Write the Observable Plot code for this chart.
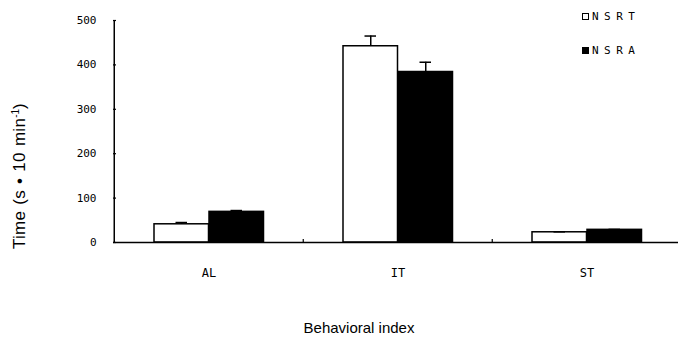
<!DOCTYPE html>
<html>
<head>
<meta charset="utf-8">
<script src="https://cdn.jsdelivr.net/npm/d3@7"></script>
<script src="https://cdn.jsdelivr.net/npm/@observablehq/plot@0.6"></script>
<style>
  html, body { margin: 0; padding: 0; background: #fff; }
  #wrap { position: relative; width: 678px; height: 342px; overflow: hidden; }
  .ttl { position: absolute; font-family: "Liberation Sans", Arial, sans-serif; font-size: 15px; color: #000; white-space: nowrap; }
  #ytitle { left: 20px; top: 176px; font-size: 17px; letter-spacing: 0.3px; word-spacing: 1px; transform: translate(-50%, -50%) rotate(-90deg); }
  #xtitle { left: 359px; top: 327px; transform: translate(-50%, -50%); }
  #legend { position: absolute; left: 582px; top: 8px; font-family: "DejaVu Sans Mono", monospace; font-size: 11px; letter-spacing: 5.5px; }
  .li { display: flex; align-items: center; height: 16px; margin-bottom: 18px; }
  .sw { width: 7px; height: 7px; border: 1px solid #000; margin-right: 3px; box-sizing: border-box; }
</style>
</head>
<body>
<div id="wrap">
  <div id="chart"></div>
  <div id="ytitle" class="ttl">Time (s • 10 min<sup style="font-size:10px;letter-spacing:0">-1</sup>)</div>
  <div id="xtitle" class="ttl">Behavioral index</div>
  <div id="legend"></div>
</div>
<script>
const categories = ["AL", "IT", "ST"];
const series = ["NSRT", "NSRA"];
const seriesFill = ["white", "black"];
const nsrtMean = [41, 442, 23];
const nsrtErr = [4, 23, 1];
const nsraMean = [69, 384, 28.5];
const nsraErr = [3, 22, 1];
const yTicks = [0, 100, 200, 300, 400, 500];

const nsrt = categories.map((c, i) => ({cat: c, value: nsrtMean[i], err: nsrtErr[i]}));
const nsra = categories.map((c, i) => ({cat: c, value: nsraMean[i], err: nsraErr[i]}));

const chart = Plot.plot({
  width: 678,
  height: 342,
  marginLeft: 113,
  marginRight: 0,
  marginTop: 20,
  marginBottom: 100,
  style: {background: "white", color: "black"},
  x: {type: "band", domain: categories, range: [113, 681.5], padding: 0, label: null},
  y: {domain: [0, 500], range: [242, 20], label: null},
  marks: [
    Plot.barY(nsrt, {x: "cat", y: "value", fill: seriesFill[0], stroke: "black", strokeWidth: 1.5, insetLeft: 40, insetRight: 94.5}),
    Plot.barY(nsra, {x: "cat", y: "value", fill: seriesFill[1], stroke: "black", strokeWidth: 1.5, insetLeft: 95, insetRight: 39.5}),
    Plot.ruleX(nsrt, {x: "cat", y1: "value", y2: d => d.value + d.err, dx: -27.25, stroke: "black", strokeWidth: 1.5}),
    Plot.ruleX(nsra, {x: "cat", y1: "value", y2: d => d.value + d.err, dx: 27.75, stroke: "black", strokeWidth: 1.5}),
    Plot.tickY(nsrt, {x: "cat", y: d => d.value + d.err, insetLeft: 61.5, insetRight: 116, stroke: "black", strokeWidth: 1.5}),
    Plot.tickY(nsra, {x: "cat", y: d => d.value + d.err, insetLeft: 116.5, insetRight: 61, stroke: "black", strokeWidth: 1.5}),
    // y axis line
    Plot.ruleX([categories[0]], {x: d => d, dx: -94.75, stroke: "black", strokeWidth: 1.5}),
    // inward y ticks
    Plot.tickY(yTicks, {y: d => d, insetRight: 562, stroke: "black", strokeWidth: 1.2}),
    // x axis line
    Plot.ruleY([0], {stroke: "black", strokeWidth: 1.5}),
    // category boundary ticks
    Plot.ruleX(categories.slice(1), {x: d => d, dx: -94.75, insetTop: 219, stroke: "black", strokeWidth: 1.2}),
    Plot.axisY({ticks: yTicks, tickSize: 0, tickPadding: 17, label: null, fontFamily: "DejaVu Sans Mono, monospace", fontSize: 11}),
    Plot.axisX({tickSize: 0, tickPadding: 26, label: null, fontFamily: "DejaVu Sans Mono, monospace", fontSize: 12, letterSpacing: "3px"})
  ]
});
document.getElementById("chart").appendChild(chart);

const legend = document.getElementById("legend");
series.forEach((s, i) => {
  const item = document.createElement("div");
  item.className = "li";
  const sw = document.createElement("span");
  sw.className = "sw";
  sw.style.background = seriesFill[i];
  item.appendChild(sw);
  const t = document.createElement("span");
  t.textContent = s;
  item.appendChild(t);
  legend.appendChild(item);
});
</script>
</body>
</html>
